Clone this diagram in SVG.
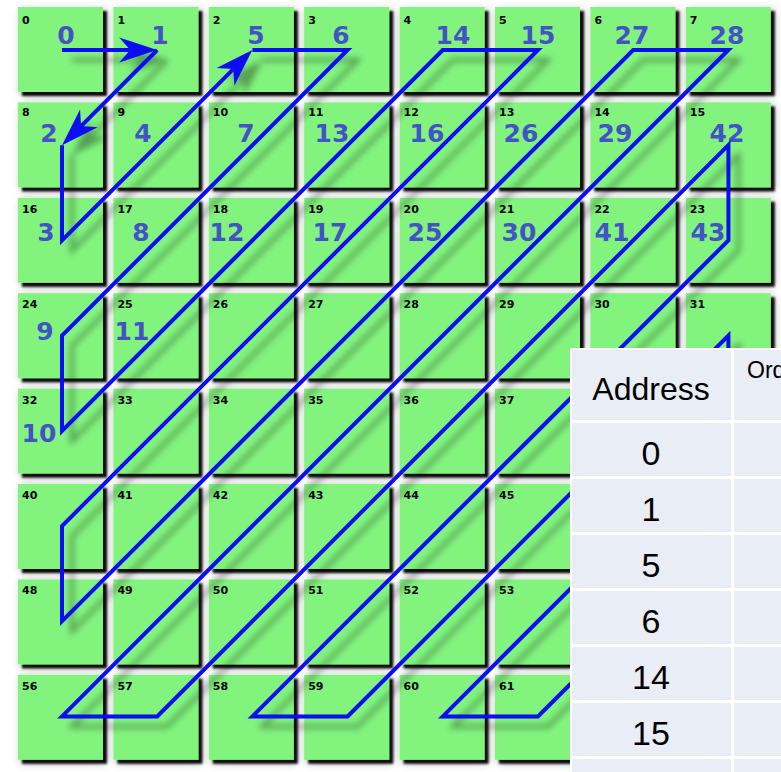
<svg xmlns="http://www.w3.org/2000/svg" width="781" height="772" viewBox="0 0 781 772">
<defs>
<style>
.t{fill:#82f47e;filter:url(#tsh)}
.a{font:bold 11px "DejaVu Sans",sans-serif;fill:#000}
.n{font:bold 25px "DejaVu Sans",sans-serif;fill:#4353c6;text-anchor:middle}
.ln{fill:none;stroke:#0d0df2;stroke-width:4;stroke-linejoin:miter}
.tl{font-family:"Liberation Sans",Arial,sans-serif;fill:#000}
.grid{stroke:#fff;stroke-width:3}
</style>
<filter id="tsh" x="-15%" y="-15%" width="140%" height="140%">
<feGaussianBlur in="SourceAlpha" stdDeviation="4" result="b1"/>
<feOffset in="b1" dx="3" dy="3" result="o1"/>
<feComponentTransfer in="o1" result="s1"><feFuncA type="linear" slope="0.35"/></feComponentTransfer>
<feGaussianBlur in="SourceAlpha" stdDeviation="1.2" result="b2"/>
<feOffset in="b2" dx="4" dy="4" result="o2"/>
<feComponentTransfer in="o2" result="s2"><feFuncA type="linear" slope="0.95"/></feComponentTransfer>
<feMerge><feMergeNode in="s1"/><feMergeNode in="s2"/><feMergeNode in="SourceGraphic"/></feMerge>
</filter>
<filter id="psh" x="-8%" y="-8%" width="120%" height="120%">
<feDropShadow dx="10" dy="10" stdDeviation="3" flood-color="#000" flood-opacity="0.35"/>
</filter>
<marker id="ah" viewBox="-40 -15 42 30" refX="-27" refY="0" markerWidth="42" markerHeight="30" markerUnits="userSpaceOnUse" orient="auto">
<path d="M0,0 L-38,-12.5 L-27,0 L-38,12.5 Z" fill="#0d0df2"/>
</marker>
<clipPath id="clipT"><rect x="0" y="0" width="781" height="772"/></clipPath>
</defs>
<rect width="781" height="772" fill="#fff"/>
<g id="tiles">
<g id="tile-0"><rect class="t" x="18" y="7" width="85" height="85"/><text class="a" x="22" y="24">0</text><text class="n" x="66" y="44">0</text></g>
<g id="tile-1"><rect class="t" x="113.4" y="7" width="85" height="85"/><text class="a" x="117.4" y="24">1</text><text class="n" x="160" y="44">1</text></g>
<g id="tile-2"><rect class="t" x="208.8" y="7" width="85" height="85"/><text class="a" x="212.8" y="24">2</text><text class="n" x="256" y="44">5</text></g>
<g id="tile-3"><rect class="t" x="304.2" y="7" width="85" height="85"/><text class="a" x="308.2" y="24">3</text><text class="n" x="341" y="44">6</text></g>
<g id="tile-4"><rect class="t" x="399.6" y="7" width="85" height="85"/><text class="a" x="403.6" y="24">4</text><text class="n" x="453" y="44">14</text></g>
<g id="tile-5"><rect class="t" x="495" y="7" width="85" height="85"/><text class="a" x="499" y="24">5</text><text class="n" x="538" y="44">15</text></g>
<g id="tile-6"><rect class="t" x="590.4" y="7" width="85" height="85"/><text class="a" x="594.4" y="24">6</text><text class="n" x="632" y="44">27</text></g>
<g id="tile-7"><rect class="t" x="685.8" y="7" width="85" height="85"/><text class="a" x="689.8" y="24">7</text><text class="n" x="727" y="44">28</text></g>

<g id="tile-8"><rect class="t" x="18" y="102.4" width="85" height="85"/><text class="a" x="22" y="116">8</text><text class="n" x="49" y="142">2</text></g>
<g id="tile-9"><rect class="t" x="113.4" y="102.4" width="85" height="85"/><text class="a" x="117.4" y="116">9</text><text class="n" x="143" y="142">4</text></g>
<g id="tile-10"><rect class="t" x="208.8" y="102.4" width="85" height="85"/><text class="a" x="212.8" y="116">10</text><text class="n" x="246" y="142">7</text></g>
<g id="tile-11"><rect class="t" x="304.2" y="102.4" width="85" height="85"/><text class="a" x="308.2" y="116">11</text><text class="n" x="332" y="142">13</text></g>
<g id="tile-12"><rect class="t" x="399.6" y="102.4" width="85" height="85"/><text class="a" x="403.6" y="116">12</text><text class="n" x="427" y="142">16</text></g>
<g id="tile-13"><rect class="t" x="495" y="102.4" width="85" height="85"/><text class="a" x="499" y="116">13</text><text class="n" x="521" y="142">26</text></g>
<g id="tile-14"><rect class="t" x="590.4" y="102.4" width="85" height="85"/><text class="a" x="594.4" y="116">14</text><text class="n" x="615" y="142">29</text></g>
<g id="tile-15"><rect class="t" x="685.8" y="102.4" width="85" height="85"/><text class="a" x="689.8" y="116">15</text><text class="n" x="727" y="142">42</text></g>

<g id="tile-16"><rect class="t" x="18" y="197.8" width="85" height="85"/><text class="a" x="22" y="212.8">16</text><text class="n" x="46" y="241">3</text></g>
<g id="tile-17"><rect class="t" x="113.4" y="197.8" width="85" height="85"/><text class="a" x="117.4" y="212.8">17</text><text class="n" x="141" y="241">8</text></g>
<g id="tile-18"><rect class="t" x="208.8" y="197.8" width="85" height="85"/><text class="a" x="212.8" y="212.8">18</text><text class="n" x="227" y="241">12</text></g>
<g id="tile-19"><rect class="t" x="304.2" y="197.8" width="85" height="85"/><text class="a" x="308.2" y="212.8">19</text><text class="n" x="330" y="241">17</text></g>
<g id="tile-20"><rect class="t" x="399.6" y="197.8" width="85" height="85"/><text class="a" x="403.6" y="212.8">20</text><text class="n" x="425" y="241">25</text></g>
<g id="tile-21"><rect class="t" x="495" y="197.8" width="85" height="85"/><text class="a" x="499" y="212.8">21</text><text class="n" x="519" y="241">30</text></g>
<g id="tile-22"><rect class="t" x="590.4" y="197.8" width="85" height="85"/><text class="a" x="594.4" y="212.8">22</text><text class="n" x="612" y="241">41</text></g>
<g id="tile-23"><rect class="t" x="685.8" y="197.8" width="85" height="85"/><text class="a" x="689.8" y="212.8">23</text><text class="n" x="708" y="241">43</text></g>

<g id="tile-24"><rect class="t" x="18" y="293.2" width="85" height="85"/><text class="a" x="22" y="308.2">24</text><text class="n" x="45" y="340">9</text></g>
<g id="tile-25"><rect class="t" x="113.4" y="293.2" width="85" height="85"/><text class="a" x="117.4" y="308.2">25</text><text class="n" x="132" y="340">11</text></g>
<g id="tile-26"><rect class="t" x="208.8" y="293.2" width="85" height="85"/><text class="a" x="212.8" y="308.2">26</text></g>
<g id="tile-27"><rect class="t" x="304.2" y="293.2" width="85" height="85"/><text class="a" x="308.2" y="308.2">27</text></g>
<g id="tile-28"><rect class="t" x="399.6" y="293.2" width="85" height="85"/><text class="a" x="403.6" y="308.2">28</text></g>
<g id="tile-29"><rect class="t" x="495" y="293.2" width="85" height="85"/><text class="a" x="499" y="308.2">29</text></g>
<g id="tile-30"><rect class="t" x="590.4" y="293.2" width="85" height="85"/><text class="a" x="594.4" y="308.2">30</text></g>
<g id="tile-31"><rect class="t" x="685.8" y="293.2" width="85" height="85"/><text class="a" x="689.8" y="308.2">31</text></g>

<g id="tile-32"><rect class="t" x="18" y="388.6" width="85" height="85"/><text class="a" x="22" y="403.6">32</text><text class="n" x="39" y="442">10</text></g>
<g id="tile-33"><rect class="t" x="113.4" y="388.6" width="85" height="85"/><text class="a" x="117.4" y="403.6">33</text></g>
<g id="tile-34"><rect class="t" x="208.8" y="388.6" width="85" height="85"/><text class="a" x="212.8" y="403.6">34</text></g>
<g id="tile-35"><rect class="t" x="304.2" y="388.6" width="85" height="85"/><text class="a" x="308.2" y="403.6">35</text></g>
<g id="tile-36"><rect class="t" x="399.6" y="388.6" width="85" height="85"/><text class="a" x="403.6" y="403.6">36</text></g>
<g id="tile-37"><rect class="t" x="495" y="388.6" width="85" height="85"/><text class="a" x="499" y="403.6">37</text></g>
<g id="tile-38"><rect class="t" x="590.4" y="388.6" width="85" height="85"/></g>
<g id="tile-39"><rect class="t" x="685.8" y="388.6" width="85" height="85"/></g>

<g id="tile-40"><rect class="t" x="18" y="484" width="85" height="85"/><text class="a" x="22" y="499">40</text></g>
<g id="tile-41"><rect class="t" x="113.4" y="484" width="85" height="85"/><text class="a" x="117.4" y="499">41</text></g>
<g id="tile-42"><rect class="t" x="208.8" y="484" width="85" height="85"/><text class="a" x="212.8" y="499">42</text></g>
<g id="tile-43"><rect class="t" x="304.2" y="484" width="85" height="85"/><text class="a" x="308.2" y="499">43</text></g>
<g id="tile-44"><rect class="t" x="399.6" y="484" width="85" height="85"/><text class="a" x="403.6" y="499">44</text></g>
<g id="tile-45"><rect class="t" x="495" y="484" width="85" height="85"/><text class="a" x="499" y="499">45</text></g>
<g id="tile-46"><rect class="t" x="590.4" y="484" width="85" height="85"/></g>
<g id="tile-47"><rect class="t" x="685.8" y="484" width="85" height="85"/></g>

<g id="tile-48"><rect class="t" x="18" y="579.4" width="85" height="85"/><text class="a" x="22" y="594.4">48</text></g>
<g id="tile-49"><rect class="t" x="113.4" y="579.4" width="85" height="85"/><text class="a" x="117.4" y="594.4">49</text></g>
<g id="tile-50"><rect class="t" x="208.8" y="579.4" width="85" height="85"/><text class="a" x="212.8" y="594.4">50</text></g>
<g id="tile-51"><rect class="t" x="304.2" y="579.4" width="85" height="85"/><text class="a" x="308.2" y="594.4">51</text></g>
<g id="tile-52"><rect class="t" x="399.6" y="579.4" width="85" height="85"/><text class="a" x="403.6" y="594.4">52</text></g>
<g id="tile-53"><rect class="t" x="495" y="579.4" width="85" height="85"/><text class="a" x="499" y="594.4">53</text></g>
<g id="tile-54"><rect class="t" x="590.4" y="579.4" width="85" height="85"/></g>
<g id="tile-55"><rect class="t" x="685.8" y="579.4" width="85" height="85"/></g>

<g id="tile-56"><rect class="t" x="18" y="674.8" width="85" height="85"/><text class="a" x="22" y="689.8">56</text></g>
<g id="tile-57"><rect class="t" x="113.4" y="674.8" width="85" height="85"/><text class="a" x="117.4" y="689.8">57</text></g>
<g id="tile-58"><rect class="t" x="208.8" y="674.8" width="85" height="85"/><text class="a" x="212.8" y="689.8">58</text></g>
<g id="tile-59"><rect class="t" x="304.2" y="674.8" width="85" height="85"/><text class="a" x="308.2" y="689.8">59</text></g>
<g id="tile-60"><rect class="t" x="399.6" y="674.8" width="85" height="85"/><text class="a" x="403.6" y="689.8">60</text></g>
<g id="tile-61"><rect class="t" x="495" y="674.8" width="85" height="85"/><text class="a" x="499" y="689.8">61</text></g>
<g id="tile-62"><rect class="t" x="590.4" y="674.8" width="85" height="85"/></g>
<g id="tile-63"><rect class="t" x="685.8" y="674.8" width="85" height="85"/></g>
</g>

<g id="connectors" filter="url(#psh)">
<path class="ln" d="M62,50 L130.2,50" marker-end="url(#ah)"/>
<path class="ln" d="M157.2,50 L81.1,126.1" marker-end="url(#ah)"/>
<path class="ln" d="M62,145.2 L62,240.4 L233.3,69.1" marker-end="url(#ah)"/>
<path class="ln" d="M252.4,50 L347.6,50 L62,335.6 L62,430.8 L442.8,50 L538,50 L62,526 L62,621.2 L633.2,50 L728.4,50 L62,716.4 L157.2,716.4 L728.4,145.2 L728.4,240.4 L252.4,716.4 L347.6,716.4 L728.4,335.6 L728.4,430.8 L442.8,716.4 L538,716.4 L728.4,526 L728.4,621.2 L633.2,716.4 L728.4,716.4"/>
</g>

<g id="table" clip-path="url(#clipT)">
<rect x="571" y="349" width="212" height="425" fill="#e9edf5" stroke="#fff" stroke-width="2"/>
<line class="grid" x1="571" y1="421.5" x2="781" y2="421.5"/>
<line class="grid" x1="571" y1="477.5" x2="781" y2="477.5"/>
<line class="grid" x1="571" y1="533.5" x2="781" y2="533.5"/>
<line class="grid" x1="571" y1="589.5" x2="781" y2="589.5"/>
<line class="grid" x1="571" y1="645.5" x2="781" y2="645.5"/>
<line class="grid" x1="571" y1="701.5" x2="781" y2="701.5"/>
<line class="grid" x1="571" y1="757.5" x2="781" y2="757.5"/>
<line class="grid" x1="732.5" y1="349" x2="732.5" y2="772"/>
<text class="tl" x="651" y="400" font-size="32" text-anchor="middle">Address</text>
<text class="tl" x="747" y="378" font-size="23">Order</text>
<text class="tl" x="651" y="465" font-size="34" text-anchor="middle">0</text>
<text class="tl" x="651" y="521" font-size="34" text-anchor="middle">1</text>
<text class="tl" x="651" y="577" font-size="34" text-anchor="middle">5</text>
<text class="tl" x="651" y="633" font-size="34" text-anchor="middle">6</text>
<text class="tl" x="651" y="689" font-size="34" text-anchor="middle">14</text>
<text class="tl" x="651" y="745" font-size="34" text-anchor="middle">15</text>
</g>
</svg>
